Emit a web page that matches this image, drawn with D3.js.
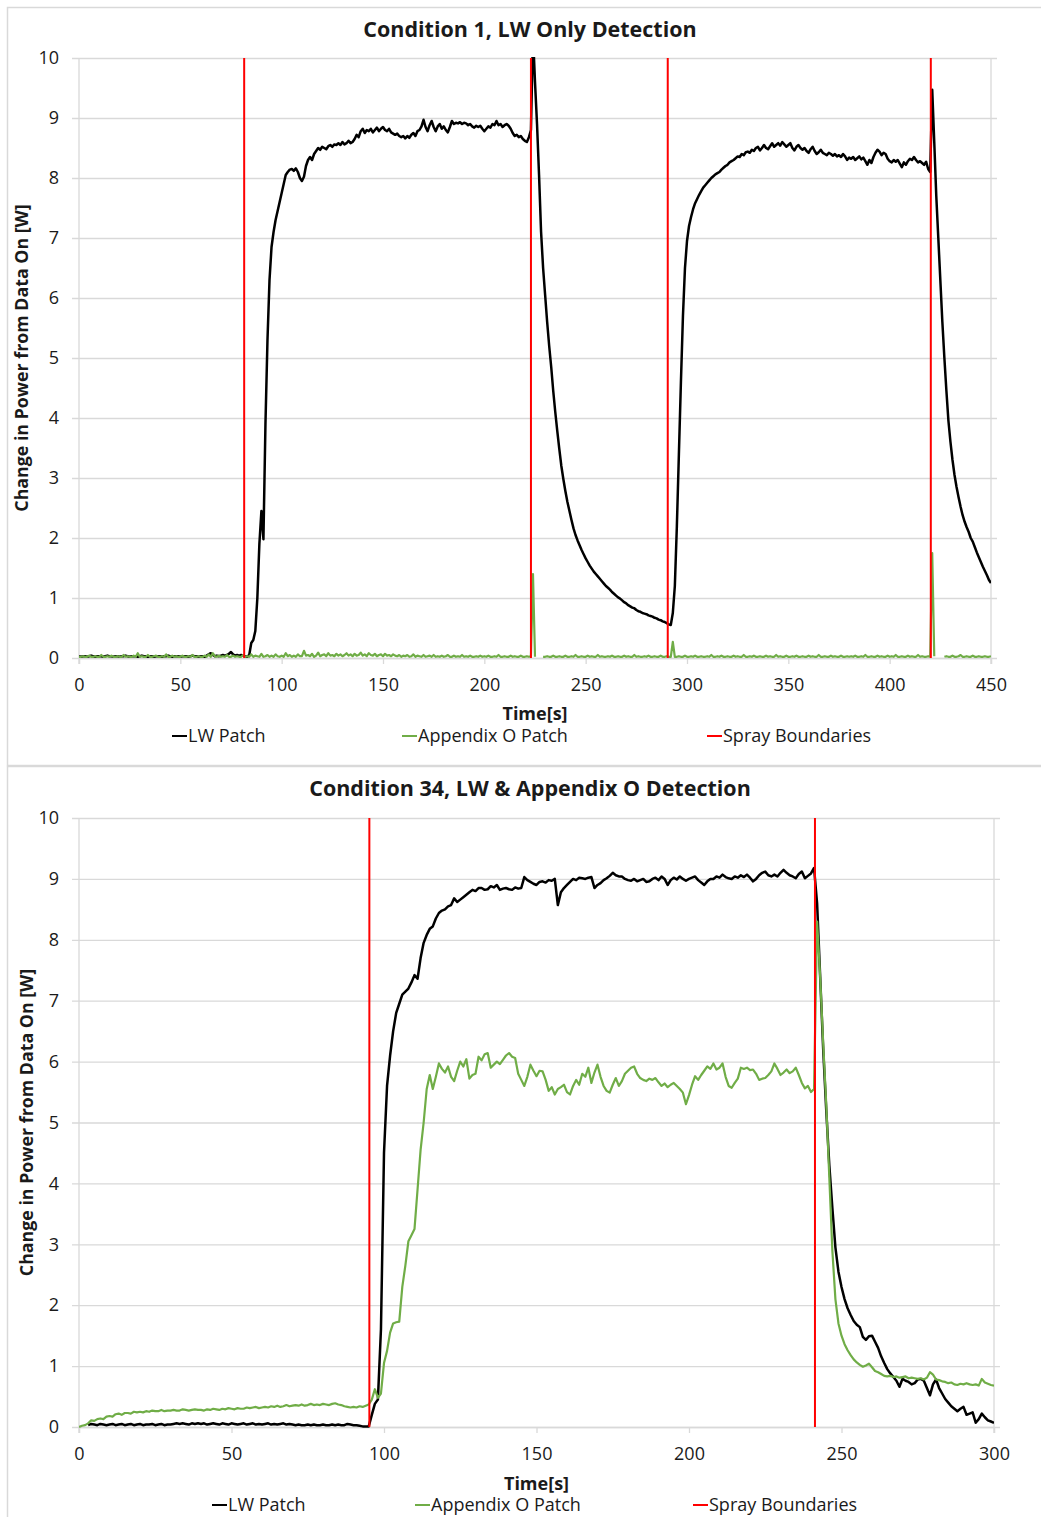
<!DOCTYPE html>
<html>
<head>
<meta charset="utf-8">
<script src="https://cdn.jsdelivr.net/npm/d3@7"></script>
<style>
  body { margin: 0; background: #fff; }
  text { font-family: "Open Sans", Lato, sans-serif; fill: #1a1a1a; }
</style>
</head>
<body>
<div id="chart-area"></div>
<script>
// one reading per second
const SAMPLE_STEP = 1

// Condition 1 - LW patch, t = 0..450 s
const lwPatch1 = [
  0.03,0.02,0.03,0.03,0.02,0.03,0.04,0.03,0.02,0.03,
  0.03,0.03,0.02,0.03,0.04,0.03,0.03,0.02,0.03,0.03,
  0.02,0.03,0.03,0.04,0.03,0.02,0.03,0.03,0.03,0.02,
  0.03,0.04,0.03,0.03,0.02,0.03,0.03,0.02,0.03,0.03,
  0.03,0.02,0.03,0.03,0.04,0.03,0.02,0.03,0.03,0.03,
  0.02,0.03,0.03,0.03,0.02,0.03,0.04,0.03,0.03,0.02,
  0.03,0.03,0.02,0.04,0.06,0.08,0.05,0.03,0.04,0.03,
  0.04,0.05,0.04,0.05,0.07,0.10,0.06,0.04,0.05,0.04,
  0.05,0.04,0.03,0.02,0.05,0.25,0.30,0.45,1.00,1.90,
  2.45,1.98,3.90,5.30,6.30,6.85,7.10,7.30,7.45,7.60,
  7.75,7.90,8.05,8.10,8.14,8.15,8.12,8.16,8.10,8.00,
  7.95,8.02,8.20,8.30,8.35,8.30,8.40,8.45,8.50,8.47,
  8.52,8.50,8.48,8.53,8.55,8.52,8.56,8.55,8.58,8.55,
  8.60,8.56,8.58,8.62,8.58,8.60,8.65,8.72,8.68,8.78,
  8.82,8.75,8.80,8.78,8.82,8.76,8.80,8.84,8.78,8.82,
  8.85,8.80,8.78,8.82,8.76,8.74,8.72,8.74,8.70,8.68,
  8.70,8.66,8.70,8.67,8.72,8.75,8.70,8.78,8.80,8.86,
  8.97,8.85,8.78,8.88,8.95,8.85,8.78,8.86,8.90,8.82,
  8.86,8.80,8.76,8.85,8.95,8.90,8.92,8.91,8.93,8.90,
  8.92,8.91,8.88,8.90,8.86,8.84,8.87,8.85,8.87,8.82,
  8.78,8.82,8.86,8.84,8.90,8.88,8.95,8.88,8.90,8.85,
  8.88,8.90,8.87,8.82,8.75,8.70,8.72,8.68,8.70,8.65,
  8.62,8.60,8.68,8.80,10.40,9.60,8.90,8.05,7.10,6.50,
  6.05,5.60,5.20,4.85,4.45,4.10,3.78,3.48,3.20,2.98,
  2.78,2.60,2.45,2.30,2.16,2.05,1.96,1.88,1.80,1.73,
  1.66,1.60,1.54,1.49,1.44,1.40,1.36,1.32,1.28,1.24,
  1.20,1.17,1.14,1.10,1.07,1.04,1.01,0.99,0.96,0.93,
  0.91,0.88,0.86,0.84,0.83,0.80,0.78,0.77,0.75,0.74,
  0.73,0.71,0.70,0.69,0.67,0.66,0.64,0.63,0.61,0.60,
  0.58,0.56,0.55,0.75,1.20,2.20,3.40,4.60,5.70,6.50,
  6.95,7.20,7.35,7.48,7.58,7.65,7.72,7.78,7.84,7.88,
  7.92,7.96,8.00,8.03,8.06,8.08,8.10,8.14,8.17,8.20,
  8.22,8.26,8.28,8.30,8.33,8.36,8.35,8.40,8.38,8.43,
  8.44,8.42,8.47,8.45,8.50,8.52,8.46,8.50,8.55,8.50,
  8.48,8.53,8.58,8.52,8.55,8.58,8.54,8.60,8.56,8.52,
  8.55,8.58,8.50,8.46,8.52,8.55,8.50,8.47,8.50,8.45,
  8.42,8.48,8.52,8.45,8.40,8.43,8.47,8.42,8.40,8.38,
  8.42,8.40,8.37,8.40,8.36,8.38,8.35,8.40,8.36,8.30,
  8.34,8.32,8.35,8.30,8.33,8.36,8.31,8.34,8.28,8.22,
  8.30,8.25,8.35,8.42,8.47,8.44,8.38,8.42,8.40,8.32,
  8.28,8.26,8.30,8.27,8.30,8.24,8.18,8.26,8.22,8.28,
  8.32,8.30,8.35,8.30,8.26,8.28,8.25,8.22,8.27,8.15,
  8.10,9.47,8.60,7.70,7.00,6.30,5.60,5.00,4.45,3.95,
  3.60,3.30,3.05,2.85,2.68,2.52,2.38,2.27,2.18,2.10,
  2.00,1.94,1.85,1.76,1.68,1.60,1.52,1.45,1.38,1.30,
  1.25
]

// Condition 1 - Appendix O patch (null = no reading)
const appOPatch1 = [
  0.02,0.02,0.03,0.02,0.02,0.04,0.02,0.02,0.03,0.02,
  0.02,0.05,0.02,0.02,0.03,0.02,0.04,0.02,0.02,0.03,
  0.02,0.02,0.05,0.02,0.03,0.02,0.02,0.04,0.02,0.08,
  0.02,0.03,0.02,0.02,0.05,0.02,0.02,0.03,0.04,0.02,
  0.02,0.03,0.02,0.06,0.02,0.02,0.04,0.02,0.03,0.02,
  0.02,0.04,0.02,0.02,0.03,0.02,0.05,0.02,0.02,0.03,
  0.02,0.02,0.04,0.02,0.06,0.02,0.08,0.03,0.02,0.04,
  0.02,0.03,0.02,0.05,0.02,0.02,0.04,0.02,0.03,0.02,
  0.02,0.05,0.02,0.03,0.02,0.06,0.02,0.04,0.03,0.02,
  0.07,0.02,0.03,0.05,0.02,0.04,0.02,0.06,0.03,0.02,
  0.04,0.02,0.08,0.03,0.05,0.02,0.04,0.02,0.06,0.03,
  0.03,0.12,0.04,0.05,0.03,0.07,0.02,0.04,0.09,0.03,
  0.05,0.06,0.03,0.08,0.04,0.05,0.03,0.07,0.04,0.06,
  0.03,0.05,0.08,0.04,0.06,0.03,0.07,0.04,0.05,0.09,
  0.04,0.06,0.03,0.08,0.05,0.04,0.07,0.03,0.05,0.06,
  0.03,0.07,0.04,0.05,0.03,0.06,0.04,0.03,0.05,0.02,
  0.04,0.03,0.05,0.02,0.03,0.06,0.02,0.04,0.03,0.02,
  0.05,0.02,0.03,0.04,0.02,0.05,0.02,0.03,0.02,0.04,
  0.02,0.03,0.05,0.02,0.02,0.04,0.02,0.03,0.02,0.05,
  0.02,0.03,0.02,0.04,0.02,0.02,0.03,0.02,0.04,0.02,
  0.03,0.02,0.04,0.02,0.02,0.03,0.02,0.05,0.02,0.02,
  0.03,0.02,0.02,0.04,0.02,0.03,0.02,0.02,0.04,0.02,
  0.02,0.03,0.02,0.03,1.40,0.02,null,null,null,0.02,
  0.02,0.03,0.02,0.02,0.04,0.02,0.02,0.03,0.02,0.02,
  0.04,0.02,0.02,0.03,0.02,0.05,0.02,0.02,0.03,0.02,
  0.02,0.04,0.02,0.03,0.02,0.02,0.05,0.02,0.03,0.02,
  0.02,0.03,0.02,0.04,0.02,0.02,0.03,0.02,0.02,0.04,
  0.02,0.03,0.02,0.02,0.05,0.02,0.03,0.02,0.02,0.03,
  0.02,0.04,0.02,0.02,0.03,0.02,0.02,0.04,0.02,0.02,
  0.03,0.02,0.02,0.27,0.02,0.02,0.03,0.02,0.02,0.04,
  0.02,0.02,0.03,0.02,0.04,0.02,0.02,0.03,0.02,0.02,
  0.03,0.02,0.05,0.02,0.02,0.03,0.02,0.04,0.02,0.02,
  0.03,0.02,0.02,0.04,0.02,0.03,0.02,0.02,0.05,0.02,
  0.02,0.03,0.02,0.04,0.02,0.02,0.03,0.02,0.02,0.04,
  0.02,0.03,0.02,0.02,0.05,0.02,0.03,0.02,0.02,0.04,
  0.02,0.02,0.03,0.02,0.04,0.02,0.02,0.03,0.02,0.02,
  0.04,0.02,0.03,0.02,0.02,0.05,0.02,0.02,0.03,0.02,
  0.02,0.04,0.02,0.03,0.02,0.02,0.04,0.02,0.02,0.03,
  0.02,0.03,0.02,0.04,0.02,0.02,0.03,0.02,0.05,0.02,
  0.02,0.03,0.02,0.02,0.04,0.02,0.03,0.02,0.02,0.04,
  0.02,0.03,0.02,0.05,0.02,0.02,0.03,0.02,0.02,0.04,
  0.02,0.03,0.02,0.02,0.05,0.02,0.03,0.02,0.02,0.03,
  0.02,1.75,0.03,null,null,null,null,0.02,0.03,0.02,
  0.02,0.04,0.02,0.02,0.03,0.05,0.02,0.02,0.03,0.02,
  0.02,0.04,0.02,0.02,0.03,0.02,0.02,0.03,0.02,0.02,
  0.03
]

const sprayBounds1 = [81.5, 223, 290.5, 420.3]

// Condition 34 - LW patch, t = 0..300 s
const lwPatch2 = [
  null,null,null,0.03,0.05,0.04,0.03,0.05,0.04,0.03,
  0.04,0.05,0.03,0.04,0.05,0.03,0.04,0.05,0.03,0.04,
  0.05,0.03,0.04,0.04,0.05,0.03,0.04,0.05,0.03,0.04,
  0.04,0.05,0.06,0.05,0.06,0.05,0.04,0.06,0.05,0.06,
  0.05,0.06,0.04,0.05,0.06,0.05,0.04,0.06,0.05,0.04,
  0.06,0.05,0.04,0.05,0.06,0.04,0.05,0.06,0.04,0.05,
  0.04,0.05,0.06,0.04,0.05,0.04,0.05,0.06,0.04,0.05,
  0.04,0.03,0.04,0.03,0.03,0.04,0.03,0.04,0.03,0.03,
  0.04,0.03,0.03,0.04,0.03,0.04,0.03,0.03,0.05,0.04,
  0.03,0.03,0.02,0.01,0.01,0.01,0.20,0.38,0.45,1.60,
  4.50,5.60,6.10,6.50,6.80,6.95,7.10,7.15,7.20,7.30,
  7.42,7.36,7.70,7.95,8.08,8.18,8.22,8.35,8.44,8.48,
  8.50,8.55,8.57,8.68,8.62,8.66,8.70,8.74,8.78,8.82,
  8.80,8.85,8.85,8.82,8.83,8.88,8.86,8.90,8.82,8.84,
  8.85,8.83,8.82,8.86,8.84,8.85,9.03,8.98,8.95,8.92,
  8.90,8.95,8.96,8.94,8.98,8.97,9.00,8.57,8.78,8.85,
  8.90,8.95,9.00,8.98,9.02,9.01,9.00,9.02,9.03,8.85,
  8.90,8.93,8.98,9.01,9.05,9.10,9.06,9.04,9.04,9.00,
  8.98,8.97,9.00,8.96,8.98,9.00,8.95,8.96,9.00,9.02,
  8.98,9.04,9.00,8.90,8.98,9.02,8.99,9.04,9.00,8.97,
  9.00,9.02,9.04,8.98,8.94,8.90,8.96,9.00,9.00,9.04,
  9.02,9.07,9.03,9.01,9.00,9.04,9.02,9.06,9.03,9.07,
  9.02,8.96,9.00,9.06,9.10,9.12,9.06,9.04,9.07,9.04,
  9.10,9.15,9.10,9.06,9.04,9.01,9.08,9.12,9.01,9.05,
  9.09,9.18,8.60,7.40,6.20,5.20,4.30,3.60,2.95,2.55,
  2.30,2.10,1.95,1.84,1.74,1.68,1.64,1.48,1.43,1.49,
  1.50,1.40,1.30,1.16,1.05,0.95,0.88,0.82,0.76,0.66,
  0.79,0.76,0.74,0.70,0.72,0.78,0.79,0.76,0.64,0.52,
  0.70,0.78,0.64,0.55,0.46,0.40,0.34,0.30,0.26,0.30,
  0.33,0.20,0.22,0.24,0.07,0.13,0.22,0.16,0.11,0.09,
  0.07
]

// Condition 34 - Appendix O patch
const appOPatch2 = [
  0.00,0.02,0.03,0.06,0.11,0.10,0.13,0.14,0.13,0.17,
  0.18,0.17,0.21,0.22,0.20,0.23,0.23,0.22,0.25,0.24,
  0.25,0.24,0.26,0.25,0.27,0.26,0.26,0.28,0.26,0.27,
  0.27,0.28,0.27,0.27,0.29,0.28,0.27,0.28,0.29,0.28,
  0.28,0.27,0.29,0.28,0.30,0.29,0.28,0.30,0.29,0.31,
  0.30,0.29,0.31,0.30,0.30,0.32,0.31,0.32,0.33,0.31,
  0.32,0.33,0.32,0.34,0.33,0.35,0.33,0.34,0.36,0.34,
  0.35,0.36,0.35,0.37,0.35,0.36,0.38,0.36,0.37,0.36,
  0.38,0.37,0.36,0.38,0.39,0.37,0.36,0.34,0.33,0.32,
  0.33,0.32,0.34,0.33,0.35,0.37,0.45,0.62,0.48,0.55,
  1.05,1.25,1.55,1.70,1.72,1.73,2.30,2.65,3.05,3.15,
  3.25,3.90,4.55,5.00,5.55,5.78,5.55,5.75,5.97,5.88,
  5.82,5.92,5.75,5.68,5.85,6.00,5.92,6.04,5.72,5.78,
  5.80,6.08,6.02,6.12,6.14,5.90,5.95,6.00,5.96,6.03,
  6.10,6.14,6.08,6.06,5.80,5.70,5.60,5.75,5.95,5.85,
  5.76,5.85,5.84,5.70,5.52,5.58,5.46,5.55,5.58,5.62,
  5.50,5.46,5.60,5.70,5.62,5.80,5.75,5.90,5.65,5.82,
  5.95,5.75,5.60,5.52,5.49,5.62,5.73,5.60,5.68,5.80,
  5.85,5.90,5.92,5.80,5.73,5.70,5.68,5.72,5.70,5.73,
  5.66,5.60,5.64,5.58,5.62,5.65,5.60,5.55,5.49,5.30,
  5.45,5.62,5.76,5.70,5.78,5.85,5.92,5.88,5.97,5.87,
  5.90,5.97,5.75,5.60,5.57,5.65,5.72,5.90,5.88,5.90,
  5.86,5.87,5.80,5.70,5.72,5.73,5.78,5.84,5.97,5.88,
  5.78,5.82,5.87,5.81,5.84,5.90,5.78,5.65,5.56,5.60,
  5.50,5.55,8.30,7.40,6.30,5.30,4.10,2.90,2.10,1.70,
  1.50,1.36,1.26,1.18,1.11,1.06,1.02,0.99,1.01,1.04,
  0.98,0.92,0.90,0.87,0.84,0.83,0.84,0.82,0.83,0.81,
  0.82,0.83,0.80,0.81,0.80,0.79,0.80,0.78,0.81,0.90,
  0.86,0.78,0.77,0.75,0.74,0.72,0.73,0.70,0.69,0.71,
  0.70,0.72,0.70,0.69,0.70,0.68,0.79,0.73,0.71,0.69,
  0.68
]

const sprayBounds2 = [95.2, 241.3]

const xTicks1 = [0, 50, 100, 150, 200, 250, 300, 350, 400, 450]
const xTicks2 = [0, 50, 100, 150, 200, 250, 300]
const yTicks = [0, 1, 2, 3, 4, 5, 6, 7, 8, 9, 10]
const legendLabels = ["LW Patch", "Appendix O Patch", "Spray Boundaries"]

const colors = {lw: "#000000", appO: "#70ad47", spray: "#ff0000", grid: "#d9d9d9"}

let svg = d3.select("#chart-area").append("svg")
  .attr("width", 1041)
  .attr("height", 1517)

function toPoints(values) {
  return values.map((v, i) => ({t: i * SAMPLE_STEP, v: v}))
}

function drawPanel(p) {
  let g = svg.append("g")

  // outer chart border
  g.append("rect")
    .attr("x", p.box[0]).attr("y", p.box[1])
    .attr("width", p.box[2]).attr("height", p.box[3])
    .attr("fill", "none")
    .attr("stroke", colors.grid)
    .attr("stroke-width", 1.5)

  let x = d3.scaleLinear().domain([0, p.xMax]).range([p.left, p.right])
  let y = d3.scaleLinear().domain([0, 10]).range([p.bottom, p.top])

  // horizontal gridlines (tick stubs stick out 7px on the left)
  let yAxis = d3.axisLeft(y)
    .tickValues(yTicks)
    .tickSize(-(p.right - p.left + 13))
    .tickPadding(13)
  g.append("g")
    .attr("transform", "translate(" + (p.left - 7) + ",0)")
    .call(yAxis)
    .call(a => a.select(".domain").remove())
    .call(a => a.selectAll("line").attr("stroke", colors.grid).attr("stroke-width", 1.3))
    .call(a => a.selectAll("text").attr("font-size", 18).attr("fill", "#1a1a1a"))

  // side frame lines
  g.selectAll(".side")
    .data([0, p.xMax])
    .enter().append("line")
      .attr("x1", d => x(d)).attr("x2", d => x(d))
      .attr("y1", p.top).attr("y2", p.bottom + 6)
      .attr("stroke", colors.grid)
      .attr("stroke-width", 1.3)

  let xAxis = d3.axisBottom(x)
    .tickValues(p.xTicks)
    .tickSize(6)
    .tickPadding(14)
  g.append("g")
    .attr("transform", "translate(0," + p.bottom + ")")
    .call(xAxis)
    .call(a => a.select(".domain").attr("stroke", colors.grid).attr("stroke-width", 1.3))
    .call(a => a.selectAll("line").attr("stroke", colors.grid).attr("stroke-width", 1.3))
    .call(a => a.selectAll("text").attr("font-size", 18).attr("fill", "#1a1a1a"))

  let clipId = "clip-" + p.id
  svg.append("clipPath").attr("id", clipId)
    .append("rect")
      .attr("x", p.left).attr("y", p.top - 1)
      .attr("width", p.right - p.left).attr("height", p.bottom - p.top + 2)

  let line = d3.line()
    .defined(d => d.v !== null)
    .x(d => x(d.t))
    .y(d => y(d.v))

  let plot = g.append("g").attr("clip-path", "url(#" + clipId + ")")

  plot.append("path")
    .datum(toPoints(p.lw))
    .attr("d", line)
    .attr("fill", "none")
    .attr("stroke", colors.lw)
    .attr("stroke-width", 2.5)
    .attr("stroke-linejoin", "round")

  plot.append("path")
    .datum(toPoints(p.appO))
    .attr("d", line)
    .attr("fill", "none")
    .attr("stroke", colors.appO)
    .attr("stroke-width", 2.2)
    .attr("stroke-linejoin", "round")

  plot.selectAll(".spray")
    .data(p.spray)
    .enter().append("line")
      .attr("x1", d => x(d)).attr("x2", d => x(d))
      .attr("y1", y(10)).attr("y2", y(0))
      .attr("stroke", colors.spray)
      .attr("stroke-width", 2)

  // title
  g.append("text")
    .attr("x", 530)
    .attr("y", p.titleY)
    .attr("text-anchor", "middle")
    .attr("font-size", 21.5)
    .attr("font-weight", "bold")
    .attr("fill", "#000")
    .text(p.title)

  // Y label
  g.append("text")
    .attr("x", -((p.top + p.bottom) / 2))
    .attr("y", p.yLabelX)
    .attr("text-anchor", "middle")
    .attr("font-size", 17.8)
    .attr("font-weight", "bold")
    .attr("transform", "rotate(-90)")
    .text("Change in Power from Data On [W]")

  // X label
  g.append("text")
    .attr("x", (p.left + p.right) / 2)
    .attr("y", p.timeY)
    .attr("text-anchor", "middle")
    .attr("font-size", 18)
    .attr("font-weight", "bold")
    .text("Time[s]")

  // legend
  let legendColors = [colors.lw, colors.appO, colors.spray]
  let items = g.selectAll(".legend")
    .data(legendLabels)
    .enter().append("g")
      .attr("transform", (d, i) => "translate(" + p.legendX[i] + "," + p.legendY + ")")
  items.append("line")
    .attr("x1", 0).attr("x2", 15)
    .attr("y1", 0).attr("y2", 0)
    .attr("stroke", (d, i) => legendColors[i])
    .attr("stroke-width", 2)
  items.append("text")
    .attr("x", 16)
    .attr("y", 6)
    .attr("font-size", 18)
    .text(d => d)
}

drawPanel({
  id: "c1", title: "Condition 1, LW Only Detection",
  lw: lwPatch1, appO: appOPatch1, spray: sprayBounds1, xTicks: xTicks1, xMax: 450,
  left: 79, right: 991, top: 58, bottom: 658,
  box: [7.5, 7.5, 1040, 758],
  titleY: 37, yLabelX: 28, timeY: 720, legendY: 736, legendX: [172, 402, 707]
})

drawPanel({
  id: "c34", title: "Condition 34, LW & Appendix O Detection",
  lw: lwPatch2, appO: appOPatch2, spray: sprayBounds2, xTicks: xTicks2, xMax: 300,
  left: 79, right: 994, top: 818, bottom: 1427,
  box: [7.5, 766.5, 1040, 760],
  titleY: 796, yLabelX: 33, timeY: 1490, legendY: 1505, legendX: [212, 415, 693]
})
</script>
</body>
</html>
